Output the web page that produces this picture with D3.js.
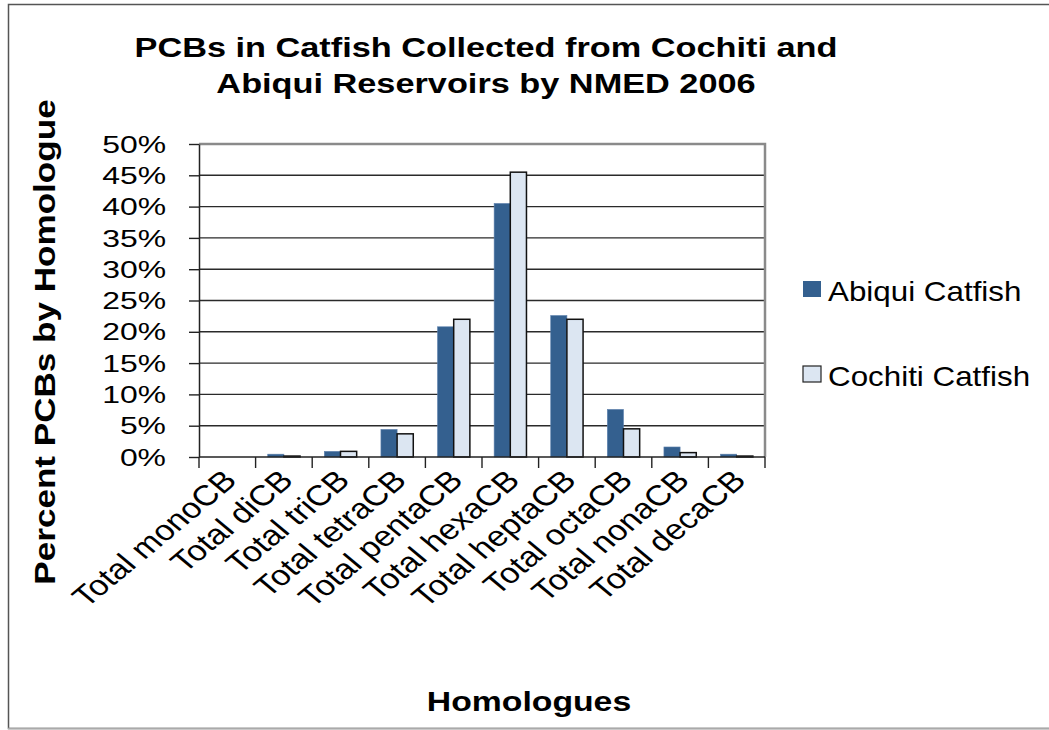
<!DOCTYPE html>
<html>
<head>
<meta charset="utf-8">
<script src="https://cdn.jsdelivr.net/npm/d3@7/dist/d3.min.js"></script>
<style>
  html, body { margin: 0; padding: 0; background: #fff; }
  svg { display: block; }
  text { font-family: "Liberation Sans", Arial, sans-serif; fill: #000; }
</style>
</head>
<body>
<svg id="chart" width="1049" height="730"></svg>
<script>
// Homologue groups on the x axis
const categories = [
  "Total monoCB", "Total diCB", "Total triCB", "Total tetraCB", "Total pentaCB",
  "Total hexaCB", "Total heptaCB", "Total octaCB", "Total nonaCB", "Total decaCB"
];
// Percent of total PCBs per homologue group
const abiquiValues  = [0, 0.45, 0.9, 4.4, 20.8, 40.5, 22.6, 7.6, 1.6, 0.45];
const cochitiValues = [0, 0.15, 0.9, 3.7, 22.0, 45.5, 22.0, 4.5, 0.7, 0.15];
const seriesNames = ["Abiqui Catfish", "Cochiti Catfish"];
const seriesColors = ["#34608f", "#dce6f2"];
const yTicks = [0, 5, 10, 15, 20, 25, 30, 35, 40, 45, 50];
const titleLines = ["PCBs in Catfish Collected from Cochiti and", "Abiqui Reservoirs by NMED 2006"];
const yTitle = "Percent PCBs by Homologue";
const xTitle = "Homologues";

const svg = d3.select("#chart");

// outer chart frame
svg.append("rect")
  .attr("x", 8.5).attr("y", 4.5).attr("width", 1060).attr("height", 724)
  .attr("fill", "#fff").attr("stroke", "#555").attr("stroke-width", 1.5);
svg.append("line")
  .attr("x1", 8).attr("x2", 1049).attr("y1", 728.5).attr("y2", 728.5)
  .attr("stroke", "#aaa").attr("stroke-width", 1.5);

const plot = { left: 199, right: 765, top: 144, bottom: 457 };

const x = d3.scaleBand().domain(categories).range([plot.left, plot.right]).padding(0);
const xs = d3.scaleBand().domain(seriesNames).range([0, x.bandwidth()])
  .paddingInner(0).paddingOuter(0.75);
const y = d3.scaleLinear().domain([0, 50]).range([plot.bottom, plot.top]);

// horizontal gridlines
svg.append("g").selectAll("line")
  .data(yTicks.filter(t => t > 0 && t < 50))
  .join("line")
  .attr("x1", plot.left).attr("x2", plot.right)
  .attr("y1", d => y(d)).attr("y2", d => y(d))
  .attr("stroke", "#2a2a2a").attr("stroke-width", 1.4);

// plot area border (top and right)
svg.append("path")
  .attr("d", `M${plot.left},${y(50)}H${plot.right}V${plot.bottom}`)
  .attr("fill", "none").attr("stroke", "#8a8a8a").attr("stroke-width", 2.5);

// bars
const rows = categories.map((c, i) => ({ cat: c, vals: [abiquiValues[i], cochitiValues[i]] }));
const groups = svg.append("g").selectAll("g")
  .data(rows).join("g")
  .attr("transform", d => `translate(${x(d.cat)},0)`);
groups.selectAll("rect")
  .data(d => d.vals.map((v, k) => ({ v, k })))
  .join("rect")
  .attr("x", d => xs(seriesNames[d.k]))
  .attr("width", xs.bandwidth())
  .attr("y", d => y(d.v))
  .attr("height", d => y(0) - y(d.v))
  .attr("fill", d => seriesColors[d.k])
  .attr("stroke", d => d.k === 1 ? "#111" : "#5d80ad")
  .attr("stroke-width", d => d.k === 1 ? 1.5 : 0.6);

// y axis
const yAxis = svg.append("g")
  .attr("transform", `translate(${plot.left},0)`)
  .call(d3.axisLeft(y).tickValues(yTicks).tickSize(10).tickSizeOuter(0).tickFormat(""));
yAxis.select(".domain").attr("stroke", "#222").attr("stroke-width", 1.5);
yAxis.selectAll(".tick line").attr("stroke", "#222").attr("stroke-width", 1.4);

// y tick labels
svg.append("g").selectAll("text")
  .data(yTicks).join("text")
  .attr("transform", d => `translate(166,${y(d) + 8.6}) scale(1.33,1)`)
  .attr("text-anchor", "end")
  .attr("font-size", 24)
  .text(d => d + "%");

// x axis with ticks at category boundaries
const xAxisG = svg.append("g");
xAxisG.append("line")
  .attr("x1", plot.left).attr("x2", plot.right)
  .attr("y1", plot.bottom).attr("y2", plot.bottom)
  .attr("stroke", "#222").attr("stroke-width", 1.5);
xAxisG.selectAll(".xt")
  .data(categories.concat([null]))
  .join("line").attr("class", "xt")
  .attr("x1", d => d ? x(d) : plot.right)
  .attr("x2", d => d ? x(d) : plot.right)
  .attr("y1", plot.bottom).attr("y2", plot.bottom + 11)
  .attr("stroke", "#222").attr("stroke-width", 1.4);

// slanted category labels
svg.append("g").selectAll("text")
  .data(categories).join("text")
  .attr("transform", d => `translate(${x(d) + x.bandwidth() / 2 + 11},${plot.bottom + 25}) scale(1.2,1) rotate(-45)`)
  .attr("text-anchor", "end")
  .attr("font-size", 28.5)
  .text(d => d);

// title
svg.append("g").selectAll("text")
  .data(titleLines).join("text")
  .attr("transform", (d, i) => `translate(486,${57 + i * 35.5}) scale(1.27,1)`)
  .attr("text-anchor", "middle")
  .attr("font-size", 27)
  .attr("font-weight", "bold")
  .text(d => d);

// axis titles
svg.append("text")
  .attr("transform", "translate(55,342) rotate(-90) scale(1.17,1)")
  .attr("text-anchor", "middle")
  .attr("font-size", 30)
  .attr("font-weight", "bold")
  .text(yTitle);

svg.append("text")
  .attr("transform", "translate(529,711) scale(1.25,1)")
  .attr("text-anchor", "middle")
  .attr("font-size", 27)
  .attr("font-weight", "bold")
  .text(xTitle);

// legend
const legend = svg.append("g").selectAll("g")
  .data(seriesNames).join("g")
  .attr("transform", (d, i) => `translate(803,${281 + i * 85})`);
legend.append("rect")
  .attr("width", 18).attr("height", 16)
  .attr("fill", (d, i) => seriesColors[i])
  .attr("stroke", (d, i) => i === 1 ? "#222" : "none")
  .attr("stroke-width", 1.2);
legend.append("text")
  .attr("transform", "translate(25,19.5) scale(1.12,1)")
  .attr("font-size", 28)
  .text(d => d);
</script>
</body>
</html>
